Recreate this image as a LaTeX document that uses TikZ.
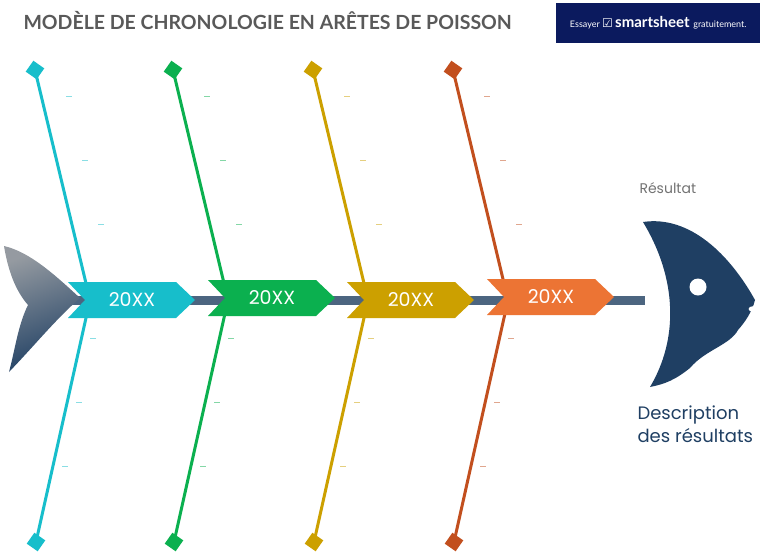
\documentclass[tikz,border=0pt]{standalone}
\usepackage{fontspec}
\setmainfont{Poppins}
\newfontfamily\titlefont{Lato}
\newfontfamily\dejavu{DejaVu Sans}
\usetikzlibrary{shapes.geometric}
\definecolor{cA}{HTML}{17BECB}
\definecolor{cB}{HTML}{0BB04F}
\definecolor{cC}{HTML}{CCA000}
\definecolor{cD}{HTML}{C24F1E}
\definecolor{aD}{HTML}{EC7434}
\definecolor{navy}{HTML}{1F3F63}
\definecolor{spine}{HTML}{4C6580}
\definecolor{ssblue}{HTML}{0B1A5E}
\tikzset{
  bone/.style={line width=3pt},
  knob/.style={diamond, minimum size=19pt, inner sep=0pt},
  tick/.style={line width=0.6pt, opacity=0.5},
  chev/.style={text=white, font=\fontsize{19}{19}\selectfont},
}
\begin{document}
\begin{tikzpicture}[x=1pt,y=-1pt]
\useasboundingbox (0,0) rectangle (763,555);
\fill[white] (0,0) rectangle (763,555);
% title
\node[anchor=west, text=black!65, font=\titlefont\bfseries\fontsize{19.5}{19}\selectfont] (title) at (20,21) {MODÈLE DE CHRONOLOGIE EN ARÊTES DE POISSON};
% smartsheet
\node[fill=ssblue, minimum width=204pt, minimum height=40pt, text=white, anchor=north west, font=\titlefont] (ss) at (556,3)
  {\fontsize{9}{9}\selectfont Essayer {\dejavu\fontsize{12}{12}\selectfont ☑} \fontsize{15}{15}\selectfont\bfseries smartsheet \fontsize{9}{9}\selectfont\mdseries gratuitement.};
% spine
\draw[spine, line width=9pt] (60,300) -- (645,300);
% tail
\shade[top color=gray!75!navy!70, bottom color=navy, shading angle=20]
 (4,246) .. controls (30,252) and (55,275) .. (80,298)
 .. controls (55,320) and (35,345) .. (9,372)
 .. controls (15,350) and (18,325) .. (28,305)
 .. controls (15,290) and (8,270) .. (4,246) -- cycle;
% bones
\foreach \x/\c [count=\i] in {35/cA,173/cB,313/cC,453/cD}{
  \node[knob, fill=\c, rotate=10] (t\i) at (\x,70) {};
  \node[knob, fill=\c, rotate=10] (b\i) at (\x+1,542) {};
  \coordinate (m\i) at (\x+55,300);
  \draw[bone, \c] (t\i.center) -- (m\i) -- (b\i.center);
  \foreach \y/\dx in {96/34,160/50,224/66,338/58,402/44,466/30}
    \draw[tick, \c] (\x+\dx-3,\y) -- (\x+\dx+3,\y);
}
% chevrons
\foreach \x/\y/\c [count=\i] in {68/300/cA,208/298/cB,347/300/cC,487/297/aD}{
  \fill[\c] (\x,\y-18) -- (\x+108,\y-18) -- (\x+127,\y) -- (\x+108,\y+18) -- (\x,\y+18) -- (\x+17,\y) -- cycle;
  \node[chev] (y\i) at (\x+64,\y) {20XX};
}
% head
\fill[navy] (643,222) .. controls (690,215) and (730,255) .. (755,300)
  .. controls (752,312) and (745,322) .. (738,330)
  .. controls (730,345) and (705,350) .. (690,368)
  .. controls (675,380) and (665,384) .. (650,387)
  .. controls (678,340) and (678,280) .. (643,222) -- cycle;
\fill[white] (698,287) circle (8.5);
\fill[white] (753,309) ellipse (4.5 and 2.8);
% texts
\node[anchor=west, text=black!55, font=\fontsize{14}{14}\selectfont] (res) at (636,188) {Résultat};
\node[anchor=north west, align=left, text=navy, font=\fontsize{18}{23}\selectfont] (desc) at (634,402) {Description\\des résultats};
\end{tikzpicture}
\end{document}
